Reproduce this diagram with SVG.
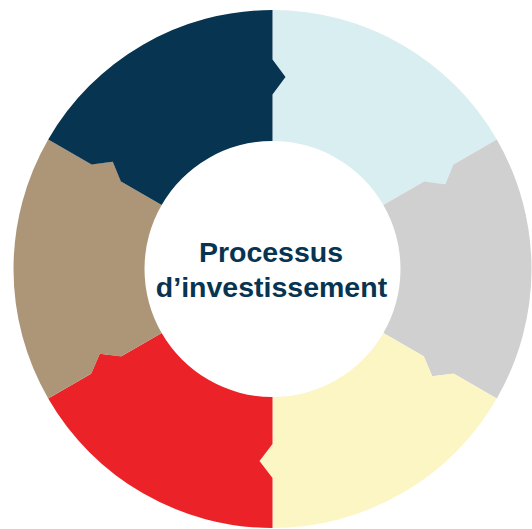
<svg xmlns="http://www.w3.org/2000/svg" width="532" height="529" viewBox="0 0 532 529">
  <style>
    .seg { stroke: none; }
    .label { font-family: "Liberation Sans", Arial, sans-serif; font-weight: bold; font-size: 28.5px; fill: #063451; text-anchor: middle; }
  </style>
  <defs>
    <path id="segShape" d="M0,-259 A259,259 0 0 1 224.30,-129.5 L181.43,-104.75 L172.78,-84.74 L151.12,-87.25 L110.85,-64 A128,128 0 0 0 0,-128 L0,-175 L13,-192 L0,-209 Z"/>
  </defs>
  <g transform="translate(272.5,269)">
    <g id="seg1"><use href="#segShape" class="seg" fill="#D9EEF0"/></g>
    <g id="seg2"><use href="#segShape" class="seg" fill="#D0D0D0" transform="rotate(60)"/></g>
    <g id="seg3"><use href="#segShape" class="seg" fill="#FCF6C5" transform="rotate(120)"/></g>
    <g id="seg4"><use href="#segShape" class="seg" fill="#EC2229" transform="rotate(180)"/></g>
    <g id="seg5"><use href="#segShape" class="seg" fill="#AD9677" transform="rotate(240)"/></g>
    <g id="seg6"><use href="#segShape" class="seg" fill="#063451" transform="rotate(300)"/></g>
  </g>
  <g id="connectors"></g>
  <g id="center">
    <text class="label" x="271" y="261.5">Processus</text>
    <text class="label" x="271.5" y="297">d’investissement</text>
  </g>
</svg>
